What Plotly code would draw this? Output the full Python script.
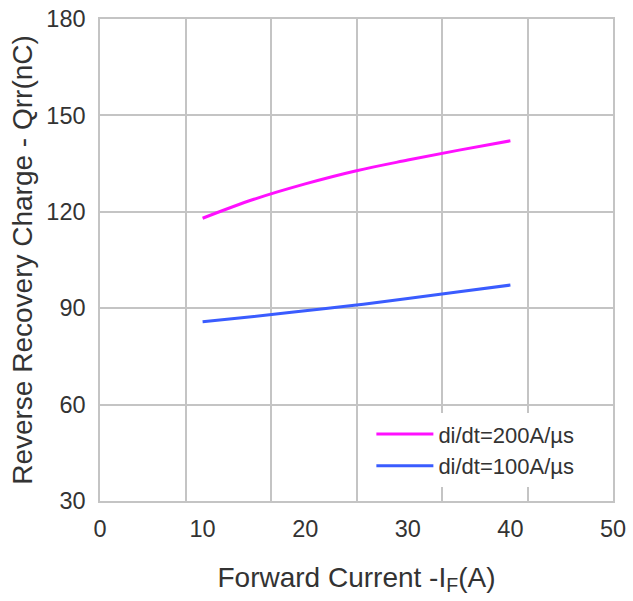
import plotly.graph_objects as go

# Data
forward_current = [10, 15, 20, 25, 30, 35, 40]
qrr_200 = [118.0, 123.9, 128.7, 132.8, 136.1, 139.2, 142.1]
qrr_100 = [85.8, 87.4, 89.2, 91.0, 93.0, 95.1, 97.2]
series_names = ["di/dt=200A/µs", "di/dt=100A/µs"]
x_ticks = [0, 10, 20, 30, 40, 50]
y_ticks = [30, 60, 90, 120, 150, 180]
x_grid = [50 / 6 * k for k in range(7)]

FONT = "Liberation Sans, Arial, sans-serif"
TXT = "#333333"
GRID = "#c4c4c4"

fig = go.Figure()
fig.add_trace(go.Scatter(x=forward_current, y=qrr_200, mode="lines", name=series_names[0],
                         line=dict(color="#ff10ff", width=3, shape="spline")))
fig.add_trace(go.Scatter(x=forward_current, y=qrr_100, mode="lines", name=series_names[1],
                         line=dict(color="#3a5cff", width=3, shape="spline")))
# invisible trace to activate the gridline axis
fig.add_trace(go.Scatter(x=[0, 50], y=[30, 30], xaxis="x2", mode="lines",
                         line=dict(width=0), showlegend=False, hoverinfo="skip"))

fig.update_layout(
    width=633, height=601,
    margin=dict(l=100, r=20, t=19, b=100),
    paper_bgcolor="white", plot_bgcolor="white",
    font=dict(family=FONT, color=TXT, size=18),
    xaxis=dict(range=[0, 50], tickvals=x_ticks, showgrid=False, zeroline=False,
               showline=True, linecolor=GRID, linewidth=1.5, mirror=True, automargin=False,
               ticks="", tickfont=dict(size=23.5, color=TXT), ticklabelstandoff=6,
               ticklabeloverflow="allow",
               title=dict(text="Forward Current -I<sub>F</sub>(A)", font=dict(size=28, color=TXT), standoff=26)),
    xaxis2=dict(range=[0, 50], overlaying="x", tickvals=x_grid, showticklabels=False,
                showgrid=True, gridcolor=GRID, gridwidth=1.5, zeroline=False, ticks="",
                side="bottom", layer="below traces", automargin=False),
    yaxis=dict(range=[30, 180], tickvals=y_ticks, showgrid=True, gridcolor=GRID, gridwidth=1.5,
               zeroline=False, showline=True, linecolor=GRID, linewidth=1.5, mirror=True,
               automargin=False, ticklabeloverflow="allow",
               ticks="", tickfont=dict(size=23.5, color=TXT), ticklabelstandoff=8,
               title=dict(text="Reverse Recovery Charge - Qrr(nC)", font=dict(size=28, color=TXT), standoff=6)),
    legend=dict(x=0.529, y=0.182, xanchor="left", yanchor="top", bgcolor="white",
                font=dict(size=22, color=TXT), borderwidth=0, tracegroupgap=0, itemwidth=57),
    showlegend=True,
)

fig.write_html("out.html", config={"displayModeBar": False},
               post_script="document.body.style.margin='0';")
